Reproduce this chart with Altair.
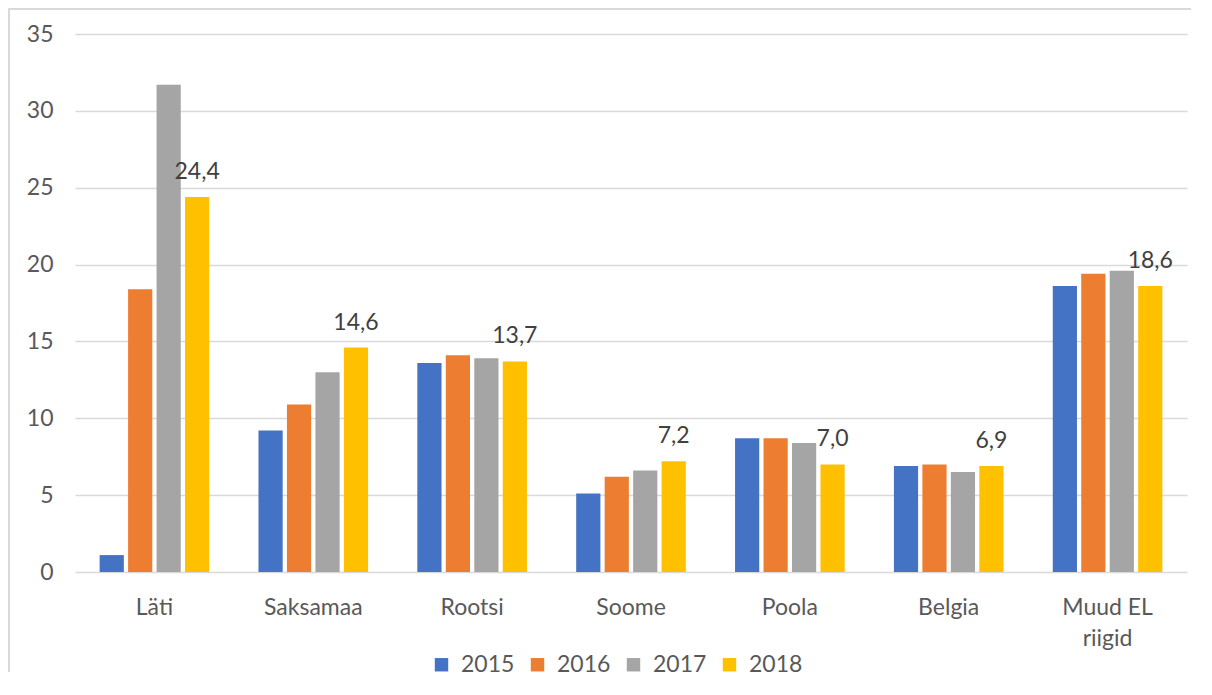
import altair as alt
import pandas as pd

categories = ["Läti", "Saksamaa", "Rootsi", "Soome", "Poola", "Belgia", "Muud EL riigid"]
years = ["2015", "2016", "2017", "2018"]
v2015 = [1.1, 9.2, 13.6, 5.1, 8.7, 6.9, 18.6]
v2016 = [18.4, 10.9, 14.1, 6.2, 8.7, 7.0, 19.4]
v2017 = [31.7, 13.0, 13.9, 6.6, 8.4, 6.5, 19.6]
v2018 = [24.4, 14.6, 13.7, 7.2, 7.0, 6.9, 18.6]
colors = ["#4472C4", "#ED7D31", "#A5A5A5", "#FFC000"]
y_ticks = [0, 5, 10, 15, 20, 25, 30, 35]

rows = []
for yr, vals in zip(years, [v2015, v2016, v2017, v2018]):
    for c, v in zip(categories, vals):
        rows.append({"category": c, "year": yr, "value": v,
                     "label": f"{v:.1f}".replace(".", ",")})
df = pd.DataFrame(rows)

W, H = 1112, 538
PL, PT, PR, PB = 67, 26, 8, 106
FONT = "Lato"

x_enc = alt.X("category:N", sort=categories,
              scale=alt.Scale(paddingInner=0.31, paddingOuter=0.155),
              axis=alt.Axis(title=None, domain=False, ticks=False, labelAngle=0,
                            labelPadding=24, labelFontSize=23, labelColor="#595959",
                            labelFont=FONT, labelLineHeight=31, labelBaseline="top",
                            labelExpr="datum.value == 'Muud EL riigid' ? ['Muud EL', 'riigid'] : datum.value",
                            grid=False))
xo_enc = alt.XOffset("year:N", sort=years, scale=alt.Scale(paddingInner=0.15))
y_enc = alt.Y("value:Q", scale=alt.Scale(domain=[0, 35], nice=False),
              axis=alt.Axis(title=None, values=y_ticks, domain=False, ticks=False,
                            labelPadding=22, labelFontSize=23, labelColor="#595959",
                            labelFont=FONT, gridColor="#d9d9d9", gridWidth=1.3))

bars = alt.Chart(df).mark_bar().encode(
    x=x_enc, xOffset=xo_enc, y=y_enc,
    color=alt.Color("year:N", sort=years,
                    scale=alt.Scale(domain=years, range=colors),
                    legend=alt.Legend(title=None, orient="none", direction="horizontal",
                                      legendX=355, legendY=619, symbolType="square",
                                      symbolSize=180, symbolStrokeWidth=0,
                                      labelFontSize=23, labelColor="#595959",
                                      labelFont=FONT, labelOffset=8, columnPadding=11)),
)

labels = alt.Chart(df).transform_filter(alt.datum.year == "2018").mark_text(
    baseline="alphabetic", dy=-18, fontSize=23, font=FONT, color="#404040"
).encode(x=x_enc, xOffset=xo_enc, y=y_enc, text="label:N")

# thin filled strips for the frame's left and top edges (kept inside the svg)
border_left = alt.Chart(alt.Data(values=[{}])).mark_rect(
    fill="#d9d9d9", strokeWidth=0
).encode(x=alt.value(-PL), x2=alt.value(-PL + 2), y=alt.value(-PT), y2=alt.value(H + PB - 6))

border_top = alt.Chart(alt.Data(values=[{}])).mark_rect(
    fill="#d9d9d9", strokeWidth=0
).encode(x=alt.value(-PL), x2=alt.value(W + PR - 4), y=alt.value(-PT), y2=alt.value(-PT + 2))

chart = alt.layer(border_left, border_top, bars, labels).properties(
    width=W, height=H,
    autosize=alt.AutoSizeParams(type="none"),
    padding={"left": PL, "top": PT, "right": PR, "bottom": PB},
).configure_view(stroke=None).configure_axis(labelFont=FONT)

chart.save("out.html", embed_options={"renderer": "svg", "actions": False})
